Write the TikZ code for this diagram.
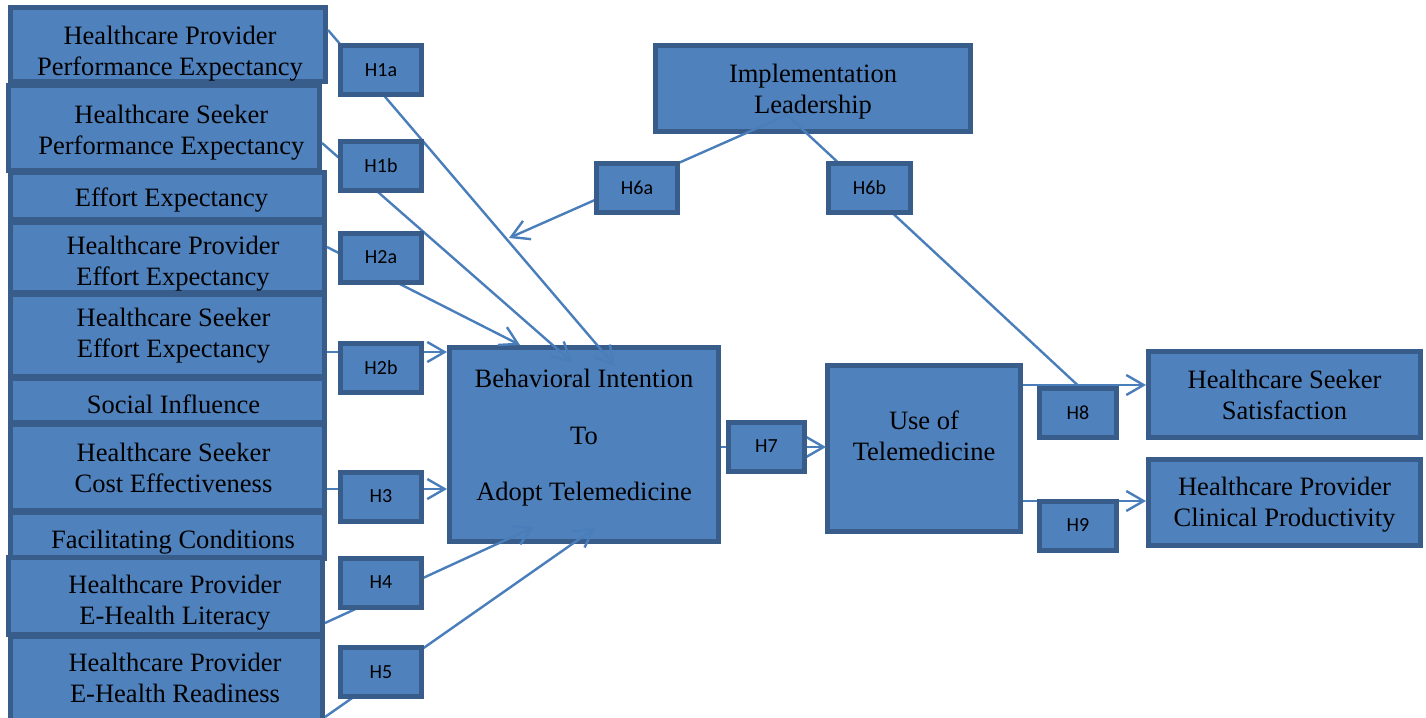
\documentclass[tikz,border=0pt]{standalone}
\usepackage{fontspec}
\setmainfont{Liberation Serif}
\newfontfamily\hfont{Carlito}
\usetikzlibrary{arrows.meta}
\definecolor{boxfill}{HTML}{4F81BD}
\definecolor{boxline}{HTML}{385D8A}
\definecolor{connc}{HTML}{4A7EBB}
\pgfdeclarelayer{front}
\pgfsetlayers{main,front}
\newcommand\rsh[2]{\hspace*{#1}#2}
\begin{document}
\begin{tikzpicture}[x=0.75pt,y=-0.75pt,
  bx/.style={draw=boxline, fill=boxfill, line width=3.75pt, inner sep=0pt, align=center,
    font=\fontsize{19.9}{23.3}\selectfont},
  hb/.style={draw=boxline, fill=boxfill, line width=3.75pt, inner sep=0pt,
    minimum width=60.75pt, minimum height=36.75pt, font=\hfont\fontsize{15}{18}\selectfont},
  cn/.style={draw=connc, line width=1.8pt},
  ar/.style={cn, -{Straight Barb[length=13pt,width=15pt]}}]
\useasboundingbox (0,0) rectangle (1426,717);

% left column
\node[bx, minimum width=236.25pt, minimum height=54pt] (hppe) at (168,44.5)
  {\rsh{3pt}{\rule{0pt}{28pt}Healthcare Provider}\\\rsh{3pt}{Performance Expectancy}};
\node[bx, minimum width=233.25pt, minimum height=63.75pt] (hspe) at (164,128)
  {\rsh{11pt}{\rule{0pt}{20.4pt}Healthcare Seeker}\\\rsh{11pt}{Performance Expectancy}};
\node[bx, minimum width=235.5pt, minimum height=35.25pt] (ee) at (167.5,196)
  {\rsh{6pt}{\rule{0pt}{19.6pt}Effort Expectancy}};
\node[bx, minimum width=235.5pt, minimum height=52.5pt] (hpee) at (167.5,257.5)
  {\rsh{8.25pt}{\rule{0pt}{22.6pt}Healthcare Provider}\\\rsh{8.25pt}{Effort Expectancy}};
\node[bx, minimum width=235.5pt, minimum height=61.5pt] (hsee) at (167.5,335.5)
  {\rsh{9pt}{Healthcare Seeker}\\\rsh{9pt}{Effort Expectancy}};
\node[bx, minimum width=235.5pt, minimum height=33pt] (si) at (167.5,400.5)
  {\rsh{9pt}{\rule{0pt}{19.6pt}Social Influence}};
\node[bx, minimum width=235.5pt, minimum height=64.5pt] (hsce) at (167.5,467.5)
  {\rsh{9pt}{Healthcare Seeker}\\\rsh{9pt}{Cost Effectiveness}};
\node[bx, minimum width=235.5pt, minimum height=34.5pt] (fc) at (167.5,535.5)
  {\rsh{8.25pt}{\rule{0pt}{24.1pt}Facilitating Conditions}};
\node[bx, minimum width=235.5pt, minimum height=57.75pt] (hpel) at (165.5,596)
  {\rsh{14pt}{\rule{0pt}{24.1pt}Healthcare Provider}\\\rsh{14pt}{E-Health Literacy}};
\node[bx, minimum width=234pt, minimum height=66.75pt] (hper) at (166.5,681)
  {\rsh{12.75pt}{Healthcare Provider}\\\rsh{12.75pt}{E-Health Readiness\rule[-5.3pt]{0pt}{0pt}}};

% main boxes
\node[bx, minimum width=201.75pt, minimum height=145.5pt] (bi) at (584,444.5)
  {\rule{0pt}{16.6pt}Behavioral Intention\\[19pt]To\\[19pt]Adopt Telemedicine\rule[-17pt]{0pt}{0pt}};
\node[bx, minimum width=236.25pt, minimum height=64.5pt] (impl) at (813,88.5)
  {\rule{0pt}{18.1pt}Implementation\\Leadership};
\node[bx, minimum width=144.75pt, minimum height=124.5pt] (use) at (924,448.5)
  {Use of\\Telemedicine\rule[-19.5pt]{0pt}{0pt}};
\node[bx, minimum width=204pt, minimum height=64.5pt] (hss) at (1284.5,394.5)
  {Healthcare Seeker\\Satisfaction};
\node[bx, minimum width=204pt, minimum height=64.5pt] (hpcp) at (1284.5,502.5)
  {\rule{0pt}{17.4pt}Healthcare Provider\\Clinical Productivity};

% hypothesis boxes
\begin{pgfonlayer}{front}
\node[hb] (h1a) at (381,70) {H1a};
\node[hb] (h1b) at (381,165.5) {H1b};
\node[hb] (h2a) at (381,257.5) {H2a};
\node[hb] (h2b) at (381,367.5) {H2b};
\node[hb] (h3) at (381,496.5) {H3};
\node[hb] (h4) at (381,582.5) {H4};
\node[hb] (h5) at (381,672) {H5};
\node[hb] (h6a) at (637,188) {H6a};
\node[hb, minimum width=61.5pt] (h6b) at (869.5,188) {H6b};
\node[hb, minimum width=57pt] (h7) at (766.5,446.5) {H7};
\node[hb, minimum width=57.75pt] (h8) at (1078,412.5) {H8};
\node[hb, minimum width=57.75pt] (h9) at (1078,525.5) {H9};
\end{pgfonlayer}

% arrow tips
\coordinate (t1a) at (615,366);
\coordinate (t1b) at (572,362);
\coordinate (t2a) at (520,345);
\coordinate (t2b) at (447,352);
\coordinate (t3) at (447,489);
\coordinate (t4) at (534,527);
\coordinate (t5) at (595,528);
\coordinate (t6a) at (509,238);
\coordinate (t7) at (826,447);
\coordinate (t8) at (1146,385);
\coordinate (t9) at (1146,501);

% connectors
\draw[ar] ([shift={(0,-14.5)}]hppe.east) -- (t1a);
\draw[ar] ([shift={(0,15)}]hspe.east) -- (t1b);
\draw[ar] ([shift={(0,-10.5)}]hpee.east) -- (t2a);
\draw[ar] ([shift={(0,16.5)}]hsee.east) -- (t2b);
\draw[ar] ([shift={(0,21.5)}]hsce.east) -- (t3);
\draw[ar] ([shift={(0,27)}]hpel.east) -- (t4);
\draw[ar] ([shift={(0,36)}]hper.east) -- (t5);
\draw[ar] ([shift={(-26,26.5)}]impl.center) -- (t6a);
\draw[cn] ([shift={(-26,26.5)}]impl.center) -- (h8.north);
\draw[ar] ([shift={(0,2.5)}]bi.east) -- (t7);
\draw[ar] ([shift={(0,-63.5)}]use.east) -- (t8);
\draw[ar] ([shift={(0,52.5)}]use.east) -- (t9);
\end{tikzpicture}
\end{document}
